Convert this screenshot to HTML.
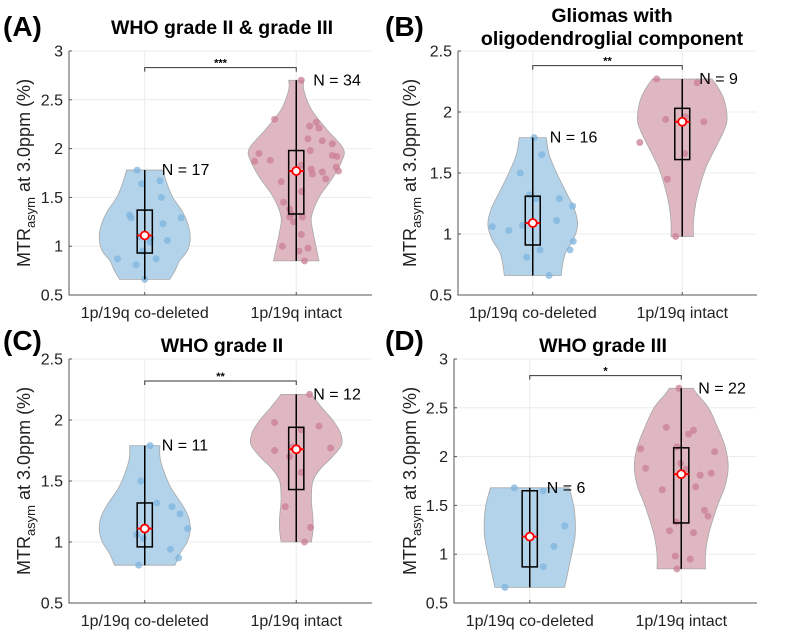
<!DOCTYPE html>
<html><head><meta charset="utf-8">
<style>
html,body{margin:0;padding:0;background:#fff;}
svg{display:block;font-family:"Liberation Sans",Arial,sans-serif;}
</style></head>
<body>
<svg id="fig" width="795" height="637" viewBox="0 0 795 637" xmlns="http://www.w3.org/2000/svg"></svg>
<script>
// ---------- Data ----------
const categories = ["1p/19q co-deleted", "1p/19q intact"];
const panelLetters = ["(A)", "(B)", "(C)", "(D)"];
const panelTitlesA = ["WHO grade II & grade III"];
const panelTitlesB = ["Gliomas with", "oligodendroglial component"];
const panelTitlesC = ["WHO grade II"];
const panelTitlesD = ["WHO grade III"];
const yTicksA = [0.5, 1, 1.5, 2, 2.5, 3];
const yTicksB = [0.5, 1, 1.5, 2, 2.5];
const yTicksC = [0.5, 1, 1.5, 2, 2.5];
const yTicksD = [0.5, 1, 1.5, 2, 2.5, 3];
const nLabelsA = [17, 34];
const nLabelsB = [16, 9];
const nLabelsC = [11, 12];
const nLabelsD = [6, 22];
const sigA = "***", sigB = "**", sigC = "**", sigD = "*";
const sigLevelA = 2.83, sigLevelB = 2.38, sigLevelC = 2.32, sigLevelD = 2.83;

const violinLevelsA1 = [0.66,0.75,0.85,0.95,1.07,1.2,1.35,1.5,1.65,1.78];
const violinHalfA1   = [0.165,0.2,0.23,0.28,0.3,0.29,0.25,0.185,0.145,0.12];
const violinLevelsA2 = [0.85,1.0,1.15,1.3,1.5,1.7,1.87,2.0,2.2,2.4,2.6,2.7];
const violinHalfA2   = [0.15,0.13,0.11,0.1,0.15,0.24,0.3,0.31,0.2,0.1,0.05,0.05];
const violinLevelsB1 = [0.66,0.75,0.85,0.95,1.07,1.2,1.35,1.5,1.65,1.79];
const violinHalfB1   = [0.19,0.2,0.22,0.27,0.3,0.28,0.22,0.16,0.11,0.09];
const violinLevelsB2 = [0.98,1.1,1.25,1.4,1.55,1.7,1.85,1.95,2.1,2.2,2.27];
const violinHalfB2   = [0.075,0.075,0.09,0.12,0.16,0.22,0.28,0.3,0.28,0.24,0.2];
const violinLevelsC1 = [0.81,0.9,1.0,1.1,1.2,1.3,1.45,1.6,1.7,1.79];
const violinHalfC1   = [0.2,0.23,0.28,0.3,0.29,0.25,0.17,0.12,0.1,0.1];
const violinLevelsC2 = [1.0,1.1,1.2,1.35,1.5,1.6,1.7,1.8,1.9,2.0,2.1,2.21];
const violinHalfC2   = [0.1,0.11,0.11,0.1,0.11,0.16,0.24,0.3,0.29,0.24,0.17,0.1];
const violinLevelsD1 = [0.66,0.8,0.95,1.1,1.2,1.35,1.5,1.68];
const violinHalfD1   = [0.23,0.25,0.27,0.29,0.3,0.3,0.29,0.26];
const violinLevelsD2 = [0.85,1.0,1.2,1.5,1.7,1.9,2.1,2.3,2.5,2.65,2.7];
const violinHalfD2   = [0.16,0.16,0.18,0.24,0.29,0.31,0.29,0.24,0.18,0.1,0.08];

const boxA1 = [0.66,0.93,1.11,1.37,1.78], boxA2 = [0.85,1.33,1.77,1.98,2.7];
const boxB1 = [0.66,0.91,1.09,1.31,1.79], boxB2 = [0.98,1.61,1.92,2.03,2.27];
const boxC1 = [0.81,0.96,1.11,1.32,1.79], boxC2 = [1.0,1.43,1.76,1.94,2.21];
const boxD1 = [0.66,0.87,1.18,1.65,1.68], boxD2 = [0.85,1.32,1.82,2.09,2.7];

const ptsA1 = [1.78,1.64,1.67,1.5,1.32,1.29,1.23,1.29,1.06,1.04,0.95,0.87,0.81,0.87,0.66,1.08,1.1];
const jitA1 = [-0.05,-0.02,0.1,0.11,-0.1,-0.09,0.12,0.24,0.15,0.035,-0.013,-0.18,-0.057,0.075,0,0.04,-0.035];
const ptsA2 = [2.7,2.3,2.27,2.23,2.21,2.1,2.08,2.05,1.95,1.98,1.93,1.92,1.87,1.88,1.83,1.79,1.74,1.76,1.81,1.77,1.69,1.66,1.56,1.45,1.38,1.33,1.3,1.25,1.12,1.0,0.98,0.95,0.85,1.3];
const jitA2 = [0.033,-0.143,0.132,0.088,0.150,0.077,0.172,0.238,-0.246,0.092,0.238,0.268,-0.275,-0.172,0.033,0.099,0.106,0.172,0.264,0.279,0.194,-0.099,0.035,-0.084,-0.044,-0.033,0.040,-0.018,0.033,-0.092,0.077,0.018,0.055,-0.044];
const ptsB1 = [1.79,1.65,1.5,1.32,1.29,1.29,1.23,1.11,1.07,1.06,1.03,0.94,0.87,0.87,0.81,0.66];
const jitB1 = [0.009,0.06,-0.084,-0.022,0.022,0.178,0.267,0.16,-0.069,-0.271,-0.16,0.271,0.049,0.249,-0.04,0.109];
const ptsB2 = [2.27,2.24,1.94,1.96,1.92,1.75,1.66,1.45,0.98];
const jitB2 = [-0.171,0.1,-0.111,0.022,0.144,-0.284,0.016,-0.1,-0.044];
const ptsC1 = [1.79,1.5,1.32,1.29,1.23,1.11,1.06,1.03,0.94,0.87,0.81];
const jitC1 = [0.035,-0.026,0.079,0.18,0.233,0.284,-0.053,-0.009,0.169,0.224,-0.04];
const ptsC2 = [2.21,1.98,1.95,1.92,1.75,1.78,1.77,1.57,1.29,1.12,1.0,1.7];
const jitC2 = [0.088,-0.143,0.15,0.033,-0.143,-0.026,0.227,0.033,-0.073,0.095,0.055,-0.044];
const ptsD1 = [1.68,1.65,1.29,1.08,0.87,0.66];
const jitD1 = [-0.102,0.089,0.231,0.16,0.089,-0.164];
const ptsD2 = [2.7,2.3,2.27,2.23,2.08,2.1,2.05,1.93,1.88,1.87,1.83,1.81,1.69,1.66,1.45,1.39,1.33,1.24,1.22,0.98,0.95,0.85];
const jitD2 = [-0.015,-0.099,0.081,0.048,-0.268,-0.029,0.220,-0.004,-0.235,0.033,0.198,0.125,0.095,-0.125,0.154,0.176,-0.033,-0.077,0.081,-0.040,0.059,-0.029];

// ---------- Drawing ----------
const NS = "http://www.w3.org/2000/svg";
const svg = document.getElementById("fig");
function mk(tag, attrs, parent){ const e=document.createElementNS(NS,tag); for(const k in attrs) e.setAttribute(k,attrs[k]); (parent||svg).appendChild(e); return e; }

const BLUE_FILL="#b3d3ea", BLUE_PT="#7eb4de", RED_FILL="#dfb7c1", RED_PT="#c97f93";

function smoothPath(pts){
  let d = "M"+pts[0][0]+","+pts[0][1];
  for(let i=0;i<pts.length-1;i++){
    const p0=pts[Math.max(0,i-1)], p1=pts[i], p2=pts[i+1], p3=pts[Math.min(pts.length-1,i+2)];
    const c1=[p1[0]+(p2[0]-p0[0])/6, p1[1]+(p2[1]-p0[1])/6];
    const c2=[p2[0]-(p3[0]-p1[0])/6, p2[1]-(p3[1]-p1[1])/6];
    d+=" C"+c1[0].toFixed(2)+","+c1[1].toFixed(2)+" "+c2[0].toFixed(2)+","+c2[1].toFixed(2)+" "+p2[0].toFixed(2)+","+p2[1].toFixed(2);
  }
  return d;
}

function drawPanel(cfg){
  const g = mk("g",{});
  
  
  const {x0,x1,yTop,yBot,ymin,ymax,ticks} = cfg;
  const sx = v => x0 + (v-0.5)/2*(x1-x0);
  const sy = v => yBot - (v-ymin)/(ymax-ymin)*(yBot-yTop);
  const pxPerUnit = (x1-x0)/2;

  ticks.forEach(t=>{
    const l=mk("line",{x1:x0,x2:x1,y1:sy(t),y2:sy(t),stroke:"#ececec","stroke-width":1},g);
    
    
  });
  [1,2].forEach(c=>{
    const l=mk("line",{x1:sx(c),x2:sx(c),y1:yTop,y2:yBot,stroke:"#ececec","stroke-width":1},g);
    
    
  });

  const series=[
    {c:1, lv:cfg.lv1, hw:cfg.hw1, box:cfg.box1, pts:cfg.pts1, jit:cfg.jit1, fill:BLUE_FILL, pt:BLUE_PT, n:cfg.n[0]},
    {c:2, lv:cfg.lv2, hw:cfg.hw2, box:cfg.box2, pts:cfg.pts2, jit:cfg.jit2, fill:RED_FILL, pt:RED_PT, n:cfg.n[1]}
  ];
  series.forEach((s,si)=>{
    const cx=sx(s.c);
    const right=s.lv.map((v,i)=>[cx+s.hw[i]*pxPerUnit, sy(v)]);
    const left=s.lv.map((v,i)=>[cx-s.hw[i]*pxPerUnit, sy(v)]).reverse();
    let d=smoothPath(right);
    d+=" L"+left[0][0].toFixed(2)+","+left[0][1].toFixed(2);
    d+=smoothPath(left).replace(/^M[^C]*/," ");
    d+=" Z";
    const v=mk("path",{d:d,fill:s.fill,stroke:"#a8a8a8","stroke-width":0.8},g);
    
    
    s.pts.forEach((val,i)=>{
      const p=mk("circle",{cx:sx(s.c+s.jit[i]),cy:sy(val),r:3.5,fill:s.pt,"fill-opacity":0.75},g);
      
      
    });
    const [wl,q1,md,q3,wh]=s.box;
    const w=mk("line",{x1:cx,x2:cx,y1:sy(wl),y2:sy(wh),stroke:"#000","stroke-width":1.5},g);
    
    
    const bw=0.05*pxPerUnit;
    const b=mk("rect",{x:cx-bw,y:sy(q3),width:2*bw,height:sy(q1)-sy(q3),fill:"none",stroke:"#000","stroke-width":1.5},g);
    
    
    const ml=mk("line",{x1:cx-bw,x2:cx+bw,y1:sy(md),y2:sy(md),stroke:"#ff0000","stroke-width":2},g);
    
    
    const mc=mk("circle",{cx:cx,cy:sy(md),r:4,fill:"#fff",stroke:"#ff0000","stroke-width":1.8},g);
    
    
    const nt=mk("text",{x:cx+17,y:sy(wh)+5,"font-size":"16",fill:"#000"},g);
    nt.textContent="N = "+s.n;
    
    
  });

  const by=sy(cfg.sigLevel);
  const br=mk("path",{d:`M${sx(1)},${by+4} L${sx(1)},${by} L${sx(2)},${by} L${sx(2)},${by+4}`,fill:"none",stroke:"#333","stroke-width":1},g);
  
  
  const st=mk("text",{x:(sx(1)+sx(2))/2,y:by-1,"text-anchor":"middle","font-size":"11","font-weight":"bold"},g);
  st.textContent=cfg.sig;
  
  

  const ax=mk("path",{d:`M${x0},${yTop} L${x0},${yBot} L${x1},${yBot}`,fill:"none",stroke:"#555","stroke-width":1},g);
  
  
  ticks.forEach(t=>{
    mk("line",{x1:x0,x2:x0+3,y1:sy(t),y2:sy(t),stroke:"#555"},g);
    const tl=mk("text",{x:x0-6,y:sy(t)+5.5,"text-anchor":"end","font-size":"16",fill:"#222"},g);
    tl.textContent=String(t);
    
    
  });
  [1,2].forEach((c,i)=>{
    mk("line",{x1:sx(c),x2:sx(c),y1:yBot,y2:yBot-3,stroke:"#555"},g);
    const tl=mk("text",{x:sx(c),y:yBot+23,"text-anchor":"middle","font-size":"16",fill:"#222"},g);
    tl.textContent=categories[i];
    
    
  });

  const yl=mk("text",{transform:`translate(${cfg.ylx},${(yTop+yBot)/2}) rotate(-90)`,"text-anchor":"middle","font-size":"18",fill:"#222"},g);
  
  
  const t1=mk("tspan",{},yl); t1.textContent="MTR";
  const t2=mk("tspan",{dy:"5","font-size":"13"},yl); t2.textContent="asym";
  const t3=mk("tspan",{dy:"-5"},yl); t3.textContent=" at 3.0ppm (%)";

  cfg.title.forEach((line,i)=>{
    const tt=mk("text",{x:cfg.tx,y:cfg.ty+i*23,"text-anchor":"middle","font-size":cfg.tfs,"font-weight":"bold"},g);
    tt.textContent=line;
    
    
  });
  const pl=mk("text",{x:cfg.lx,y:cfg.ly,"font-size":"28","font-weight":"bold"},g);
  pl.textContent=cfg.letter;
  
  
}

drawPanel({id:"a",x0:69,x1:372,yTop:51,yBot:295,ymin:0.5,ymax:3,ticks:yTicksA,
  lv1:violinLevelsA1,hw1:violinHalfA1,lv2:violinLevelsA2,hw2:violinHalfA2,box1:boxA1,box2:boxA2,
  pts1:ptsA1,jit1:jitA1,pts2:ptsA2,jit2:jitA2,n:nLabelsA,sig:sigA,sigLevel:sigLevelA,
  ylx:30,title:panelTitlesA,tfs:19.5,tx:222,ty:34,letter:panelLetters[0],lx:3,ly:36});
drawPanel({id:"b",x0:458,x1:757,yTop:51,yBot:295,ymin:0.5,ymax:2.5,ticks:yTicksB,
  lv1:violinLevelsB1,hw1:violinHalfB1,lv2:violinLevelsB2,hw2:violinHalfB2,box1:boxB1,box2:boxB2,
  pts1:ptsB1,jit1:jitB1,pts2:ptsB2,jit2:jitB2,n:nLabelsB,sig:sigB,sigLevel:sigLevelB,
  ylx:416,title:panelTitlesB,tfs:19.5,tx:612,ty:22,letter:panelLetters[1],lx:385,ly:36});
drawPanel({id:"c",x0:69,x1:372,yTop:359,yBot:603,ymin:0.5,ymax:2.5,ticks:yTicksC,
  lv1:violinLevelsC1,hw1:violinHalfC1,lv2:violinLevelsC2,hw2:violinHalfC2,box1:boxC1,box2:boxC2,
  pts1:ptsC1,jit1:jitC1,pts2:ptsC2,jit2:jitC2,n:nLabelsC,sig:sigC,sigLevel:sigLevelC,
  ylx:30,title:panelTitlesC,tfs:19.5,tx:222,ty:352,letter:panelLetters[2],lx:3,ly:350});
drawPanel({id:"d",x0:454,x1:757,yTop:359,yBot:603,ymin:0.5,ymax:3,ticks:yTicksD,
  lv1:violinLevelsD1,hw1:violinHalfD1,lv2:violinLevelsD2,hw2:violinHalfD2,box1:boxD1,box2:boxD2,
  pts1:ptsD1,jit1:jitD1,pts2:ptsD2,jit2:jitD2,n:nLabelsD,sig:sigD,sigLevel:sigLevelD,
  ylx:416,title:panelTitlesD,tfs:19.5,tx:603,ty:352,letter:panelLetters[3],lx:385,ly:350});
</script>
</body></html>
